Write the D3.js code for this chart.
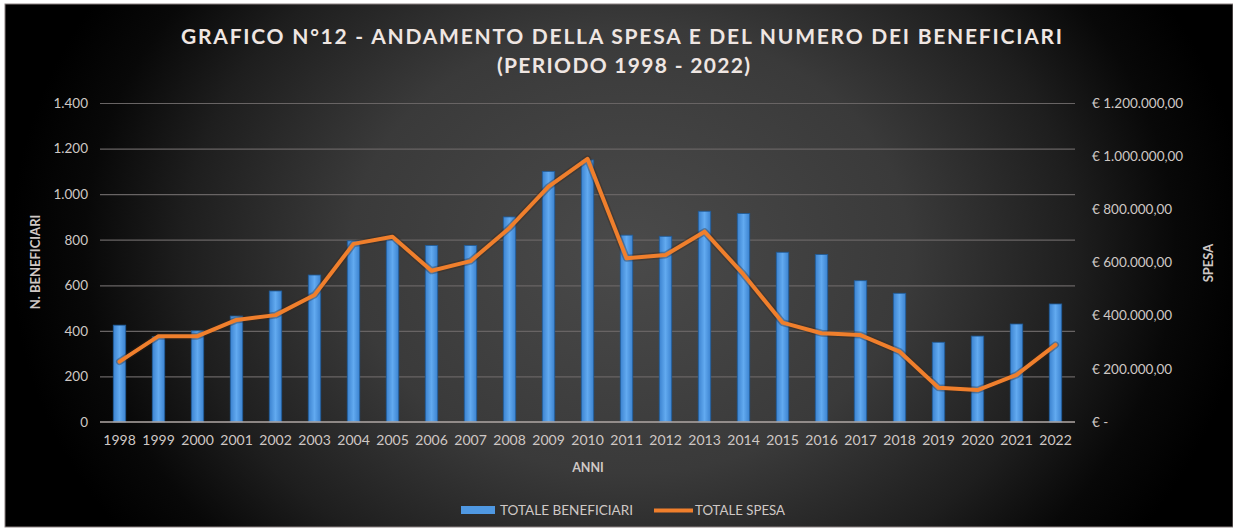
<!DOCTYPE html>
<html>
<head>
<meta charset="utf-8">
<script src="https://cdn.jsdelivr.net/npm/d3@7/dist/d3.min.js"></script>
<style>
  html, body { margin: 0; padding: 0; background: #ffffff; }
  svg { display: block; }
</style>
</head>
<body>
<svg id="chart" width="1233" height="529"></svg>
<script>
// ---- DATA ----
const years = ["1998","1999","2000","2001","2002","2003","2004","2005","2006","2007","2008","2009","2010",
               "2011","2012","2013","2014","2015","2016","2017","2018","2019","2020","2021","2022"];
const beneficiari = [425, 375, 400, 465, 575, 645, 795, 800, 775, 775, 900, 1100, 1150,
                     820, 815, 925, 915, 745, 735, 620, 565, 350, 377, 430, 518];
const spesa = [227000, 323000, 323000, 384000, 402000, 478000, 670000, 697000, 569000, 605000, 730000, 885000, 990000,
               616000, 628000, 716000, 555000, 374000, 334000, 327000, 265000, 129000, 120000, 177000, 290000];
const leftTicks = [0, 200, 400, 600, 800, 1000, 1200, 1400];
const rightTicks = [0, 200000, 400000, 600000, 800000, 1000000, 1200000];
const titleLines = ["GRAFICO N°12 - ANDAMENTO DELLA SPESA E DEL NUMERO DEI BENEFICIARI", "(PERIODO 1998 - 2022)"];
const seriesNames = ["TOTALE BENEFICIARI", "TOTALE SPESA"];

// ---- LAYOUT ----
const svg = d3.select("#chart");
const plot = { left: 100, right: 1075, top: 103, bottom: 422 };
const FONT = "Lato, 'Open Sans', 'DejaVu Sans', sans-serif";
const textCol = "#cfc8c5";

const locale = d3.formatLocale({ decimal: ",", thousands: ".", grouping: [3], currency: ["€ ", ""] });
const fmtInt = locale.format(",.0f");
const fmtEur = locale.format(",.2f");

const defs = svg.append("defs");
const bg = defs.append("radialGradient").attr("id", "bg")
  .attr("gradientUnits", "userSpaceOnUse")
  .attr("cx", 630).attr("cy", 250).attr("r", 620)
  .attr("gradientTransform", "translate(630,250) scale(1,0.8) translate(-630,-250)");
[[0, "#4a4a4a"], [0.45, "#3a3a3a"], [0.72, "#1e1e1e"], [0.88, "#080808"], [1, "#000000"]]
  .forEach(([o, c]) => bg.append("stop").attr("offset", o).attr("stop-color", c));

const barGrad = defs.append("linearGradient").attr("id", "barGrad")
  .attr("x1", 0).attr("x2", 1).attr("y1", 0).attr("y2", 0);
[[0, "#3b82cf"], [0.5, "#62aaf0"], [1, "#3b82cf"]]
  .forEach(([o, c]) => barGrad.append("stop").attr("offset", o).attr("stop-color", c));

// background panel
svg.append("rect").attr("x", 5).attr("y", 4).attr("width", 1228).attr("height", 523)
  .attr("fill", "url(#bg)").attr("stroke", "#8a8080").attr("stroke-width", 1);

// ---- SCALES ----
const x = d3.scaleBand().domain(years).range([plot.left, plot.right])
  .paddingInner(0.68).paddingOuter(0.34);
const yL = d3.scaleLinear().domain([0, 1400]).range([plot.bottom, plot.top]);
const yR = d3.scaleLinear().domain([0, 1200000]).range([plot.bottom, plot.top]);

// gridlines
const grid = svg.append("g").attr("transform", `translate(${plot.left},0)`)
  .call(d3.axisLeft(yL).tickValues(leftTicks.filter(d => d > 0))
    .tickSize(-(plot.right - plot.left)).tickFormat(""));
grid.select(".domain").remove();
grid.selectAll("line").attr("stroke", "#686464").attr("stroke-width", 1.2);

// bars
svg.append("g").selectAll("rect").data(years).join("rect")
  .attr("x", (d) => x(d))
  .attr("y", (d, i) => yL(beneficiari[i]))
  .attr("width", x.bandwidth())
  .attr("height", (d, i) => yL(0) - yL(beneficiari[i]))
  .attr("fill", "url(#barGrad)")
  .attr("stroke", "#1f5a96").attr("stroke-width", 0.8);

// baseline
svg.append("line").attr("x1", plot.left).attr("x2", plot.right)
  .attr("y1", yL(0)).attr("y2", yL(0))
  .attr("stroke", "#b0a8a6").attr("stroke-width", 1.5);

// line
const line = d3.line()
  .x((d, i) => x(years[i]) + x.bandwidth() / 2)
  .y(d => yR(d));
svg.append("path").datum(spesa).attr("d", line)
  .attr("fill", "none").attr("stroke", "#3a2418").attr("stroke-opacity", 0.35)
  .attr("stroke-width", 7).attr("stroke-linejoin", "round").attr("stroke-linecap", "round");
svg.append("path").datum(spesa).attr("d", line)
  .attr("fill", "none").attr("stroke", "#f07f2c").attr("stroke-width", 4)
  .attr("stroke-linejoin", "round").attr("stroke-linecap", "round");

// ---- AXES ----
const axL = svg.append("g").attr("transform", `translate(${plot.left - 12},0)`)
  .call(d3.axisLeft(yL).tickValues(leftTicks).tickSize(0).tickPadding(0).tickFormat(d => fmtInt(d)));
axL.select(".domain").remove();
axL.selectAll("text").attr("fill", textCol).style("font-family", FONT).style("font-size", "13.5px");

const axR = svg.append("g").attr("transform", `translate(1092,0)`)
  .call(d3.axisRight(yR).tickValues(rightTicks).tickSize(0).tickPadding(0)
    .tickFormat(d => d === 0 ? "€ -" : "€ " + fmtEur(d)));
axR.select(".domain").remove();
axR.selectAll("text").attr("fill", textCol).style("font-family", FONT).style("font-size", "13.5px");

const axX = svg.append("g").attr("transform", `translate(0,${plot.bottom})`)
  .call(d3.axisBottom(x).tickSize(0).tickPadding(13));
axX.select(".domain").remove();
axX.selectAll("text").attr("fill", textCol).style("font-family", FONT).style("font-size", "14px");

// axis titles
svg.append("text").attr("transform", "translate(40,262) rotate(-90)")
  .attr("text-anchor", "middle").attr("fill", textCol)
  .style("font-family", FONT).style("font-weight", "bold").style("font-size", "13px")
  .text("N. BENEFICIARI");
svg.append("text").attr("transform", "translate(1213,263) rotate(-90)")
  .attr("text-anchor", "middle").attr("fill", textCol)
  .style("font-family", FONT).style("font-weight", "bold").style("font-size", "13px")
  .text("SPESA");
svg.append("text").attr("x", 588).attr("y", 472)
  .attr("text-anchor", "middle").attr("fill", textCol)
  .style("font-family", FONT).style("font-weight", "bold").style("font-size", "12.5px")
  .text("ANNI");

// title
svg.append("text").attr("x", 181).attr("y", 44)
  .attr("textLength", 881).attr("lengthAdjust", "spacing")
  .attr("fill", "#efe6e2")
  .style("font-family", FONT).style("font-weight", "bold").style("font-size", "21px")
  .text(titleLines[0]);
svg.append("text").attr("x", 497).attr("y", 73)
  .attr("textLength", 253).attr("lengthAdjust", "spacing")
  .attr("fill", "#efe6e2")
  .style("font-family", FONT).style("font-weight", "bold").style("font-size", "21px")
  .text(titleLines[1]);

// legend
const lg = svg.append("g");
lg.append("rect").attr("x", 461).attr("y", 506).attr("width", 34).attr("height", 8).attr("fill", "#4f98e2");
lg.append("text").attr("x", 500).attr("y", 515).attr("fill", textCol)
  .attr("textLength", 133).attr("lengthAdjust", "spacingAndGlyphs")
  .style("font-family", FONT).style("font-size", "12.5px").text(seriesNames[0]);
lg.append("line").attr("x1", 654).attr("x2", 693).attr("y1", 510.5).attr("y2", 510.5)
  .attr("stroke", "#f07f2c").attr("stroke-width", 4);
lg.append("text").attr("x", 695).attr("y", 515).attr("fill", textCol)
  .attr("textLength", 90).attr("lengthAdjust", "spacingAndGlyphs")
  .style("font-family", FONT).style("font-size", "12.5px").text(seriesNames[1]);
</script>
</body>
</html>
